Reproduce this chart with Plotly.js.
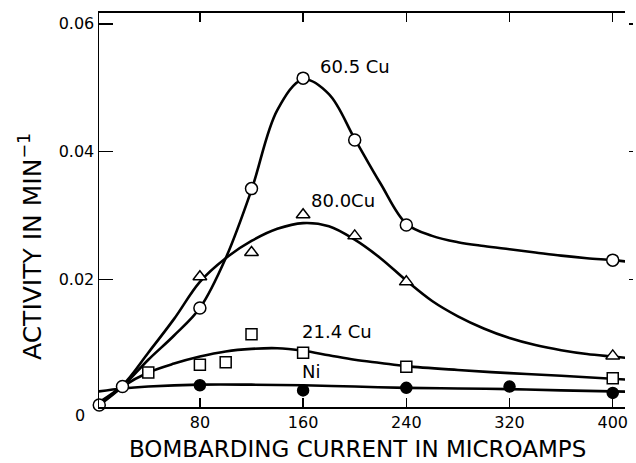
<!DOCTYPE html>
<html>
<head>
<meta charset="utf-8">
<script src="https://cdn.plot.ly/plotly-3.0.1.min.js"></script>
<style>html,body{margin:0;padding:0;background:#fff;}#chart{width:636px;height:463px;}</style>
</head>
<body>
<div id="chart"></div>
<script>
// Measured points (bombarding current in microamps, activity in min^-1)
const cu605X = [2, 20, 80, 120, 160, 200, 240, 400];
const cu605Y = [0.0003, 0.0032, 0.0155, 0.0342, 0.0515, 0.0418, 0.0285, 0.0230];
const cu800X = [0, 80, 120, 160, 200, 240, 400];
const cu800Y = [0.0006, 0.0204, 0.0242, 0.0301, 0.0268, 0.0196, 0.0080];
const cu214X = [40, 80, 100, 120, 160, 240, 400];
const cu214Y = [0.0054, 0.0066, 0.0070, 0.0114, 0.0085, 0.0063, 0.0045];
const niX = [0, 80, 160, 240, 320, 400];
const niY = [0.0024, 0.0034, 0.0026, 0.0030, 0.0032, 0.0022];

// Hand-drawn fitted curves
const fit605X = [2, 20, 40, 60, 80, 100, 120, 140, 160, 180, 200, 220, 240, 260, 280, 300, 320, 340, 360, 380, 400, 410];
const fit605Y = [0.0003, 0.0032, 0.0074, 0.0112, 0.0155, 0.0233, 0.0340, 0.0465, 0.0513, 0.0490, 0.0420, 0.0350, 0.0287, 0.0268, 0.0258, 0.0252, 0.0247, 0.0242, 0.0237, 0.0233, 0.0230, 0.0228];
const fit800X = [0, 20, 40, 60, 80, 100, 120, 140, 160, 180, 200, 220, 240, 260, 280, 300, 320, 340, 360, 380, 400, 410];
const fit800Y = [0.0005, 0.0034, 0.0085, 0.0138, 0.0196, 0.0233, 0.0260, 0.0279, 0.0288, 0.0283, 0.0262, 0.0233, 0.0198, 0.0166, 0.0142, 0.0123, 0.0108, 0.0097, 0.0089, 0.0083, 0.0079, 0.0077];
const fit214X = [2, 20, 40, 60, 80, 100, 120, 140, 160, 180, 200, 220, 240, 280, 320, 360, 410];
const fit214Y = [0.0003, 0.0032, 0.0054, 0.0068, 0.0079, 0.0087, 0.0091, 0.0092, 0.0088, 0.0081, 0.0074, 0.0069, 0.0064, 0.0058, 0.0053, 0.0049, 0.0043];
const fitNiX = [0, 20, 40, 80, 120, 160, 200, 240, 280, 320, 360, 410];
const fitNiY = [0.0024, 0.0029, 0.0032, 0.0035, 0.0035, 0.0034, 0.0032, 0.0030, 0.0029, 0.0028, 0.0026, 0.0024];

const yTickVals = [0.02, 0.04, 0.06];
const yTickText = ['0.02', '0.04', '0.06'];
const xTickVals = [80, 160, 240, 320, 400];
const xTickText = ['80', '160', '240', '320', '400'];

const seriesLabels = ['60.5 Cu', '80.0Cu', '21.4 Cu', 'Ni'];
const labelX = [200, 191, 186, 166];
const labelY = [0.0534, 0.0324, 0.0119, 0.0056];

const FONT = 'DejaVu Sans, Arial, sans-serif';
const curve = (x, y) => ({x, y, type: 'scatter', mode: 'lines', cliponaxis: false,
  line: {color: '#000', width: 2.6, shape: 'spline', smoothing: 1}, hoverinfo: 'skip', showlegend: false});
const pts = (x, y, symbol, fill, size) => ({x, y, type: 'scatter', mode: 'markers', cliponaxis: false,
  marker: {symbol, size, color: fill, line: {color: '#000', width: 1.5}}, showlegend: false});

const data = [
  curve(fit605X, fit605Y), curve(fit800X, fit800Y), curve(fit214X, fit214Y), curve(fitNiX, fitNiY),
  pts(cu605X, cu605Y, 'circle', '#fff', 12),
  pts(cu800X, cu800Y, 'triangle-up', '#fff', 12),
  pts(cu214X, cu214Y, 'square', '#fff', 11),
  pts(niX, niY, 'circle', '#000', 11),
  {x: [], y: [], type: 'scatter', yaxis: 'y2', showlegend: false, hoverinfo: 'skip'}
];

const annotations = seriesLabels.map((t, i) => ({
  text: t, x: labelX[i], y: labelY[i], xref: 'x', yref: 'y', showarrow: false,
  xanchor: 'center', yanchor: 'middle', font: {family: FONT, size: 18, color: '#000'}
}));
annotations.push({text: '0', xref: 'paper', yref: 'paper', x: -0.0356, y: -0.0228, showarrow: false,
  xanchor: 'center', yanchor: 'middle', font: {family: FONT, size: 16, color: '#000'}});
annotations.push({text: 'BOMBARDING CURRENT IN MICROAMPS', xref: 'paper', yref: 'paper',
  x: (357 - 99) / 534, y: (407 - 449) / 394, showarrow: false, xanchor: 'center', yanchor: 'middle',
  font: {family: FONT, size: 23, color: '#000'}});
annotations.push({text: 'ACTIVITY IN MIN<sup>−1</sup>', xref: 'paper', yref: 'paper', textangle: -90,
  x: (30 - 99) / 534, y: (407 - 247) / 394, showarrow: false, xanchor: 'center', yanchor: 'middle',
  font: {family: FONT, size: 25, color: '#000'}});

const layout = {
  width: 636, height: 463,
  margin: {l: 99, r: 3, t: 13, b: 56, pad: 0},
  paper_bgcolor: '#fff', plot_bgcolor: '#fff',
  showlegend: false,
  font: {family: FONT, size: 16, color: '#000'},
  xaxis: {domain: [0, 526 / 534], range: [1.8, 409.5], showline: true, linecolor: '#000', linewidth: 2,
    mirror: 'ticks', ticks: 'inside', ticklen: 9, tickwidth: 1.5, tickcolor: '#000',
    tickvals: xTickVals, ticktext: xTickText, showgrid: false, zeroline: false,
    tickfont: {family: FONT, size: 16, color: '#000'}},
  yaxis: {range: [0, 0.0617], showline: true, linecolor: '#000', linewidth: 1.5,
    ticks: 'inside', ticklen: 14, tickwidth: 1.5, tickcolor: '#000',
    tickvals: yTickVals, ticktext: yTickText, showgrid: false, zeroline: false,
    tickfont: {family: FONT, size: 16, color: '#000'}},
  yaxis2: {overlaying: 'y', anchor: 'free', position: 1, side: 'right', range: [0, 0.0617],
    showline: false, ticks: 'inside', ticklen: 4, tickwidth: 1.5, tickcolor: '#000',
    tickvals: [0.02, 0.04, 0.06], showticklabels: false, showgrid: false, zeroline: false},
  annotations
};

Plotly.newPlot('chart', data, layout, {staticPlot: true});
</script>
</body>
</html>
